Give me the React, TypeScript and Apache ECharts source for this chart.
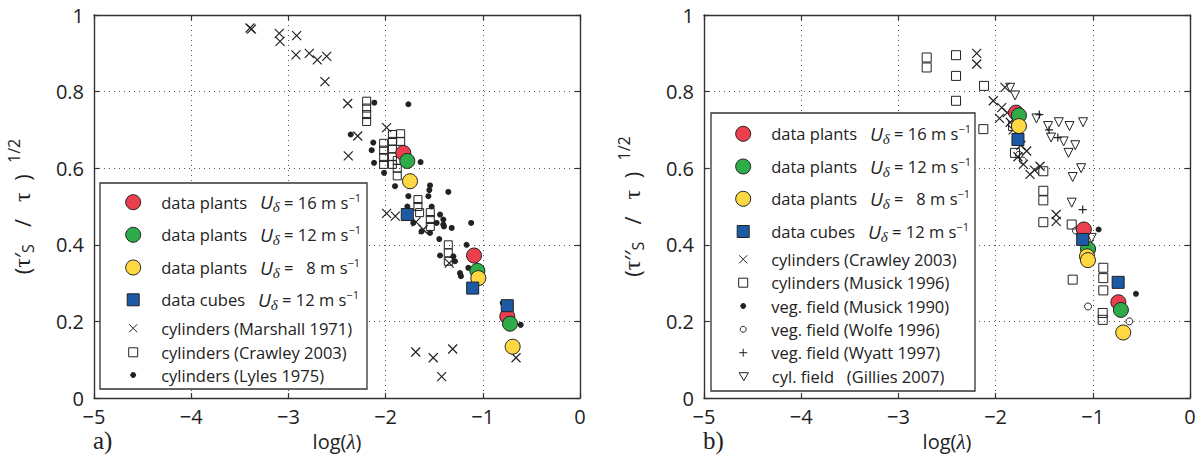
import React, { useEffect, useRef } from 'react';
import * as echarts from 'echarts';

// ---------- data (log(lambda), sqrt(tau_s/tau)) ----------
// Panel a)
const plants16A = [[-1.818, 0.64], [-1.09, 0.372], [-0.748, 0.213]];
const plants12A = [[-1.777, 0.619], [-1.056, 0.332], [-0.72, 0.194]];
const plants8A = [[-1.749, 0.566], [-1.046, 0.313], [-0.693, 0.134]];
const cubesA = [[-1.777, 0.479], [-1.104, 0.287], [-0.748, 0.241]];
const marshall1971 = [
  [-3.395, 0.966], [-3.38, 0.963], [-3.094, 0.952], [-3.086, 0.931], [-2.915, 0.946], [-2.922, 0.896],
  [-2.785, 0.9], [-2.703, 0.883], [-2.606, 0.892], [-2.624, 0.826], [-2.39, 0.769], [-1.99, 0.706],
  [-2.287, 0.684], [-2.384, 0.632], [-1.99, 0.482], [-1.9, 0.475], [-1.687, 0.46], [-1.612, 0.44],
  [-1.69, 0.12], [-1.51, 0.105], [-1.31, 0.128], [-1.423, 0.056], [-0.658, 0.105], [-1.345, 0.352],
];
const crawley2003A = [
  [-2.195, 0.775], [-2.195, 0.757], [-2.195, 0.74], [-2.195, 0.722],
  [-2.02, 0.665], [-2.02, 0.647], [-2.02, 0.628], [-2.02, 0.61],
  [-1.93, 0.688], [-1.93, 0.67], [-1.93, 0.65], [-1.93, 0.63], [-1.93, 0.61],
  [-1.845, 0.69], [-1.845, 0.67], [-1.88, 0.62], [-1.88, 0.6], [-1.88, 0.58],
  [-1.667, 0.518], [-1.667, 0.5], [-1.65, 0.484], [-1.54, 0.484], [-1.54, 0.466], [-1.54, 0.448],
  [-1.355, 0.4], [-1.355, 0.379], [-1.355, 0.357],
];
const lyles1975 = [
  [-2.116, 0.771], [-1.766, 0.767], [-2.359, 0.688], [-2.127, 0.667], [-2.143, 0.647], [-2.119, 0.614],
  [-2.016, 0.588], [-1.64, 0.616], [-1.903, 0.553], [-1.543, 0.555], [-1.55, 0.543], [-1.56, 0.527],
  [-1.355, 0.538], [-1.766, 0.527], [-1.776, 0.5], [-1.526, 0.5], [-1.44, 0.479], [-1.406, 0.466],
  [-1.4, 0.448], [-1.32, 0.444], [-1.12, 0.457], [-1.475, 0.457], [-1.715, 0.457], [-1.63, 0.435],
  [-1.543, 0.431], [-1.406, 0.453], [-1.448, 0.415], [-1.167, 0.4], [-1.44, 0.372], [-1.303, 0.37],
  [-1.286, 0.357], [-1.235, 0.326], [-1.225, 0.318], [-1.149, 0.34], [-1.029, 0.326], [-1.022, 0.302],
  [-0.795, 0.248], [-0.61, 0.191],
];

// Panel b)
const plants16B = [[-1.79, 0.745], [-1.092, 0.44], [-0.737, 0.25]];
const plants12B = [[-1.76, 0.738], [-1.049, 0.389], [-0.711, 0.23]];
const plants8B = [[-1.76, 0.71], [-1.06, 0.37], [-1.05, 0.36], [-0.687, 0.171]];
const cubesB = [[-1.77, 0.675], [-1.104, 0.414], [-0.739, 0.302]];
const crawley2003B = [
  [-2.194, 0.9], [-2.194, 0.872], [-1.903, 0.811], [-2.024, 0.776], [-1.937, 0.758], [-1.88, 0.745],
  [-1.96, 0.73], [-1.85, 0.72], [-1.82, 0.7], [-1.74, 0.66], [-1.68, 0.645], [-1.77, 0.63],
  [-1.714, 0.61], [-1.646, 0.584], [-1.543, 0.605], [-1.6, 0.595], [-1.377, 0.479], [-1.377, 0.461],
];
const musick1996 = [
  [-2.709, 0.889], [-2.709, 0.863], [-2.407, 0.895], [-2.407, 0.841], [-2.407, 0.776], [-2.119, 0.815],
  [-2.126, 0.702], [-1.82, 0.71], [-1.8, 0.64], [-1.509, 0.592], [-1.509, 0.541], [-1.509, 0.516],
  [-1.509, 0.459], [-1.217, 0.453], [-1.207, 0.309], [-0.892, 0.34], [-0.892, 0.313], [-0.892, 0.281],
  [-0.898, 0.222], [-0.898, 0.204],
];
const musick1990 = [[-0.94, 0.44], [-0.556, 0.272]];
const wolfe1996 = [[-1.76, 0.635], [-1.72, 0.62], [-1.173, 0.437], [-1.049, 0.239], [-0.624, 0.2]];
const wyatt1997 = [[-1.55, 0.74], [-1.45, 0.7], [-1.36, 0.68], [-1.104, 0.492]];
const gillies2007 = [
  [-1.85, 0.81], [-1.8, 0.79], [-1.58, 0.73], [-1.46, 0.71], [-1.35, 0.72], [-1.24, 0.71], [-1.1, 0.72],
  [-1.43, 0.68], [-1.3, 0.67], [-1.18, 0.66], [-1.25, 0.64], [-1.12, 0.6], [-1.207, 0.577], [-1.217, 0.51],
  [-1.011, 0.418],
];

const xMin = -5;
const xMax = 0;
const xStep = 1;
const yMin = 0;
const yMax = 1;
const yStep = 0.2;

// ---------- styling ----------
const FONT = "'Open Sans', 'Noto Sans', sans-serif";
const SERIF = "'Liberation Serif', 'DejaVu Serif', serif";
const INK = '#222';
const FRAME = '#333';
const RED = '#ec3f4d';
const GREEN = '#2eac4a';
const YELLOW = '#fdd843';
const BLUE = '#1d5aa6';
const CLEAR = 'rgba(0,0,0,0)';
const CROSS = 'path://M0,0L10,10M10,0L0,10';
const PLUS = 'path://M5,0L5,10M0,5L10,5';
const TRI = 'path://M0,0L10,0L5,8.66Z';
const SQUARE = 'path://M0,0L10,0L10,10L0,10Z';

const labels: Record<string, string> = {
  a16: 'data plants   {u|U}{sub|δ} = 16 m s{sup|−1}',
  a12: 'data plants   {u|U}{sub|δ} = 12 m s{sup|−1}',
  a8: 'data plants   {u|U}{sub|δ} =   8 m s{sup|−1}',
  acube: 'data cubes   {u|U}{sub|δ} = 12 m s{sup|−1}',
  amarsh: 'cylinders (Marshall 1971)',
  acraw: 'cylinders (Crawley 2003)',
  alyles: 'cylinders (Lyles 1975)',
  b16: 'data plants   {u|U}{sub|δ} = 16 m s{sup|−1}',
  b12: 'data plants   {u|U}{sub|δ} = 12 m s{sup|−1}',
  b8: 'data plants   {u|U}{sub|δ} =   8 m s{sup|−1}',
  bcube: 'data cubes   {u|U}{sub|δ} = 12 m s{sup|−1}',
  bcraw: 'cylinders (Crawley 2003)',
  bmus96: 'cylinders (Musick 1996)',
  bmus90: 'veg. field (Musick 1990)',
  bwolfe: 'veg. field (Wolfe 1996)',
  bwyatt: 'veg. field (Wyatt 1997)',
  bgill: 'cyl. field   (Gillies 2007)',
};

function scatter(name: string, data: number[][], ax: number, symbol: string, size: number,
  color: string, border: string, bw: number, z: number) {
  return {
    type: 'scatter', name, data, xAxisIndex: ax, yAxisIndex: ax, symbol, symbolSize: size,
    itemStyle: { color, borderColor: border, borderWidth: bw, opacity: 1 },
    z, silent: true, emphasis: { disabled: true },
  };
}

function legendItem(name: string, cx: number, cy: number, size: number, textX: number) {
  const itemWidth = 2 * (textX - 5 - cx);
  return {
    data: [name], orient: 'horizontal', left: cx - size / 2, top: cy - 11,
    itemWidth, itemHeight: size, itemGap: 0, padding: 0, selectedMode: false, z: 6,
    itemStyle: { borderWidth: 1 },
    formatter: (n: string) => labels[n],
    textStyle: {
      fontFamily: FONT, fontSize: 16.5, color: INK, lineHeight: 22,
      rich: {
        u: { fontStyle: 'italic', fontSize: 19, lineHeight: 22 },
        sub: { fontFamily: SERIF, fontStyle: 'italic', fontSize: 15, padding: [10, 0, 0, 0], lineHeight: 22 },
        sup: { fontSize: 11, padding: [0, 0, 10, 0], lineHeight: 22 },
      },
    },
  };
}

function axesFor(gridIndex: number, yName: string) {
  const dotted = { show: true, lineStyle: { color: '#555', type: [1, 4], width: 1 } };
  const line = { show: true, onZero: false, lineStyle: { color: FRAME, width: 1.4 } };
  const tick = { show: true, inside: true, length: 5, lineStyle: { color: FRAME, width: 1.2 } };
  const xs = [
    {
      type: 'value', gridIndex, min: xMin, max: xMax, interval: xStep, position: 'bottom',
      axisLine: line, axisTick: tick, splitLine: dotted,
      axisLabel: {
        fontFamily: FONT, fontSize: 20, color: INK, margin: 8,
        formatter: (v: number) => (v === 0 ? '0' : '−' + Math.abs(v)),
      },
      name: 'log({l|λ})', nameLocation: 'middle', nameGap: 33,
      nameTextStyle: {
        fontFamily: FONT, fontSize: 20, color: INK,
        rich: { l: { fontFamily: SERIF, fontStyle: 'italic', fontSize: 21 } },
      },
    },
    {
      type: 'value', gridIndex, min: xMin, max: xMax, interval: xStep, position: 'top',
      axisLine: line, axisTick: tick, splitLine: { show: false }, axisLabel: { show: false },
    },
  ];
  const ys = [
    {
      type: 'value', gridIndex, min: yMin, max: yMax, interval: yStep, position: 'left',
      axisLine: line, axisTick: tick, splitLine: dotted,
      axisLabel: {
        fontFamily: FONT, fontSize: 20, color: INK, margin: 10,
        formatter: (v: number) => (v === 0 ? '0' : v === 1 ? '1' : v.toFixed(1)),
      },
      name: yName, nameLocation: 'middle', nameGap: 58, nameRotate: 90,
      nameTextStyle: {
        fontFamily: FONT, fontSize: 22, color: INK, lineHeight: 28,
        rich: {
          t: { fontFamily: SERIF, fontSize: 24, lineHeight: 28 },
          s: { fontSize: 16, padding: [11, 0, 0, 0], lineHeight: 28 },
          p: { fontSize: 16, padding: [0, 0, 16, 0], lineHeight: 28 },
        },
      },
    },
    {
      type: 'value', gridIndex, min: yMin, max: yMax, interval: yStep, position: 'right',
      axisLine: line, axisTick: tick, splitLine: { show: false }, axisLabel: { show: false },
    },
  ];
  return { xs, ys };
}

export default function App() {
  const ref = useRef<HTMLDivElement>(null);

  useEffect(() => {
    if (!ref.current) return;
    const chart = echarts.init(ref.current, null, { renderer: 'svg' });
    const A = axesFor(0, '({t|τ}′{s|S}   /   {t|τ}  )  {p|1/2}');
    const B = axesFor(1, '({t|τ}′′{s|S}   /   {t|τ}  )  {p|1/2}');

    const series = [
      scatter('amarsh', marshall1971, 0, CROSS, 9, CLEAR, INK, 1.2, 2),
      scatter('acraw', crawley2003A, 0, SQUARE, 8, CLEAR, INK, 1, 2),
      scatter('alyles', lyles1975, 0, 'circle', 6, INK, INK, 0, 2),
      scatter('a16', plants16A, 0, 'circle', 15, RED, INK, 1, 3),
      scatter('a12', plants12A, 0, 'circle', 15, GREEN, INK, 1, 3),
      scatter('a8', plants8A, 0, 'circle', 15, YELLOW, INK, 1, 3),
      scatter('acube', cubesA, 0, SQUARE, 12, BLUE, INK, 1, 3),
      scatter('bcraw', crawley2003B, 2, CROSS, 9, CLEAR, INK, 1.2, 2),
      scatter('bmus96', musick1996, 2, SQUARE, 9, CLEAR, INK, 1, 2),
      scatter('bmus90', musick1990, 2, 'circle', 6, INK, INK, 0, 2),
      scatter('bwolfe', wolfe1996, 2, 'circle', 7, CLEAR, INK, 1, 2),
      scatter('bwyatt', wyatt1997, 2, PLUS, 8, CLEAR, INK, 1.2, 2),
      scatter('bgill', gillies2007, 2, TRI, 9, CLEAR, INK, 1, 2),
      scatter('b16', plants16B, 2, 'circle', 15, RED, INK, 1, 3),
      scatter('b12', plants12B, 2, 'circle', 15, GREEN, INK, 1, 3),
      scatter('b8', plants8B, 2, 'circle', 15, YELLOW, INK, 1, 3),
      scatter('bcube', cubesB, 2, SQUARE, 12, BLUE, INK, 1, 3),
    ];

    const LTX = 160.7, LCX = 132.7;
    const RTX = 770.7, RCX = 742.7;
    const legend = [
      legendItem('a16', LCX, 200.7, 15, LTX),
      legendItem('a12', LCX, 233.3, 15, LTX),
      legendItem('a8', LCX, 266, 15, LTX),
      legendItem('acube', LCX, 298.3, 12, LTX),
      legendItem('amarsh', LCX, 328.3, 8, LTX),
      legendItem('acraw', LCX, 352.3, 9, LTX),
      legendItem('alyles', LCX, 375, 5, LTX),
      legendItem('b16', RCX, 132.3, 15, RTX),
      legendItem('b12', RCX, 165, 15, RTX),
      legendItem('b8', RCX, 197.3, 15, RTX),
      legendItem('bcube', RCX, 230, 12, RTX),
      legendItem('bcraw', RCX, 259.3, 8, RTX),
      legendItem('bmus96', RCX, 282.7, 9, RTX),
      legendItem('bmus90', RCX, 306, 5, RTX),
      legendItem('bwolfe', RCX, 329.3, 6, RTX),
      legendItem('bwyatt', RCX, 352.7, 8, RTX),
      legendItem('bgill', RCX, 376.7, 8, RTX),
    ];

    chart.setOption({
      animation: false,
      backgroundColor: '#fff',
      grid: [
        { left: 94, top: 15, width: 486, height: 383 },
        { left: 704, top: 15, width: 486, height: 383 },
      ],
      xAxis: [...A.xs, ...B.xs],
      yAxis: [...A.ys, ...B.ys],
      legend,
      series,
      graphic: [
        {
          type: 'rect', z: 5, shape: { x: 100, y: 183, width: 267, height: 206 },
          style: { fill: '#fff', stroke: FRAME, lineWidth: 1.3 },
        },
        {
          type: 'rect', z: 5, shape: { x: 711, y: 113, width: 264, height: 278 },
          style: { fill: '#fff', stroke: FRAME, lineWidth: 1.3 },
        },
        { type: 'text', left: 93, top: 428, style: { text: 'a)', font: `25px ${SERIF}`, fill: INK } },
        { type: 'text', left: 703, top: 428, style: { text: 'b)', font: `25px ${SERIF}`, fill: INK } },
      ],
    });
    return () => chart.dispose();
  }, []);

  return (
    <div
      ref={ref}
      style={{ position: 'absolute', left: 0, top: 0, width: 1199, height: 464 }}
    />
  );
}
